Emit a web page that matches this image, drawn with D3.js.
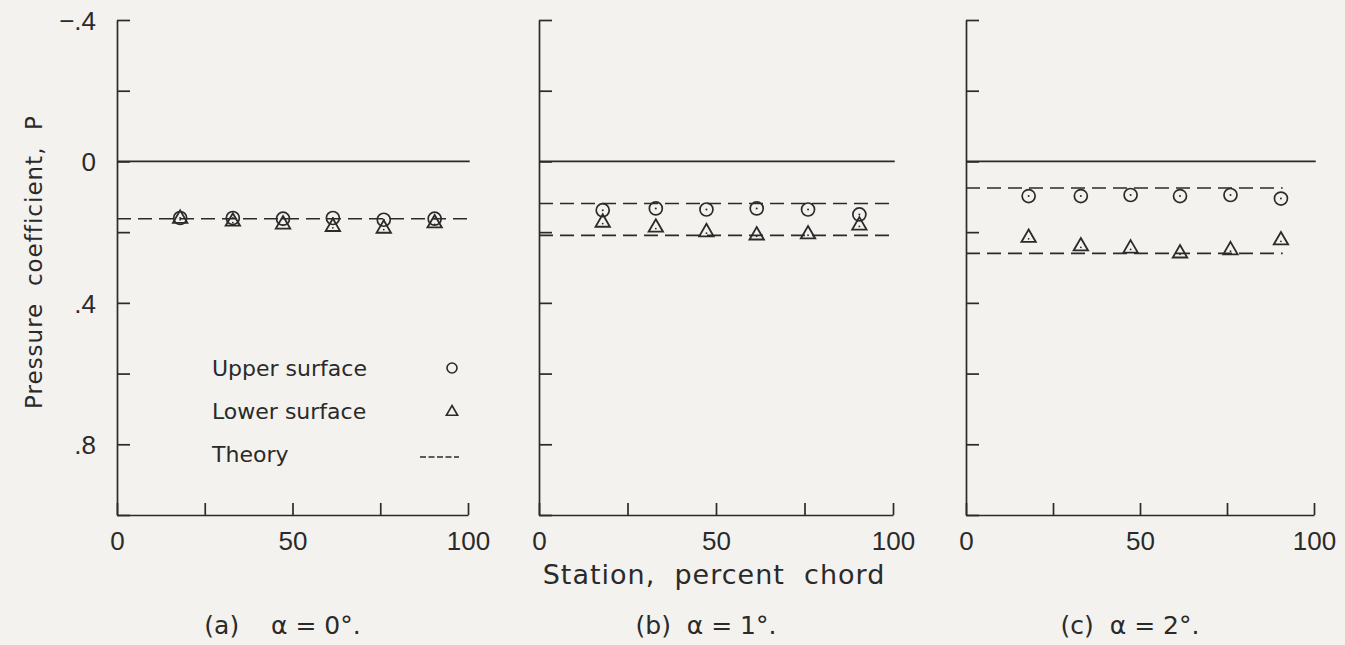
<!DOCTYPE html>
<html>
<head>
<meta charset="utf-8">
<script src="https://cdn.jsdelivr.net/npm/d3@7"></script>
<style>
  body { margin: 0; background: #f4f2ee; }
  svg { display: block; font-family: "DejaVu Sans", sans-serif; }
  text { fill: #2a2a2a; white-space: pre; }
</style>
</head>
<body>
<div id="chart"></div>
<script>
// Stations (percent chord) where the orifices sit
const stations = [18, 33, 47.3, 61.5, 76, 90.5];

// Measured pressure coefficients, one row per panel (a, b, c)
const upperP = [
    [0.160, 0.160, 0.162, 0.160, 0.165, 0.162],
    [0.138, 0.133, 0.136, 0.133, 0.136, 0.150],
    [0.098, 0.098, 0.095, 0.098, 0.095, 0.105]
];
const lowerP = [
    [0.162, 0.170, 0.178, 0.185, 0.190, 0.175],
    [0.173, 0.187, 0.200, 0.209, 0.206, 0.181],
    [0.216, 0.240, 0.246, 0.260, 0.251, 0.223]
];

// Theory values (upper, lower) and where the dashed line stops
const theoryUpper = [0.162, 0.119, 0.075];
const theoryLower = [0.162, 0.209, 0.260];
const theoryEnd = [100, 100, 91];

const captions = ["(a)    α = 0°.", "(b)  α = 1°.", "(c)  α = 2°."];
const yTicks = [-0.4, -0.2, 0, 0.2, 0.4, 0.6, 0.8, 1.0];
const yLabels = { "-0.4": "−.4", "0": "0", "0.4": ".4", "0.8": ".8" };
const xTicks = [0, 25, 50, 75, 100];
const legendItems = ["Upper surface", "Lower surface", "Theory"];

const width = 1345, height = 645;
const ink = "#2b2b2b";
const panelX = [[117, 468], [539, 893], [966, 1314]];
const y = d3.scaleLinear().domain([-0.4, 1.0]).range([20, 515]);

const svg = d3.select("#chart").append("svg")
    .attr("width", width)
    .attr("height", height);

const triangle = d3.symbol().type(d3.symbolTriangle).size(90);
const triangleSmall = d3.symbol().type(d3.symbolTriangle).size(55);

panelX.forEach((range, i) => {
    const x = d3.scaleLinear().domain([0, 100]).range(range);
    const g = svg.append("g");

    // y axis, ticks pointing inward
    const yAxis = d3.axisLeft(y)
        .tickValues(yTicks)
        .tickSize(-13)
        .tickSizeOuter(0)
        .tickPadding(21)
        .tickFormat(d => i === 0 ? (yLabels[String(+d.toFixed(1))] || "") : "");
    g.append("g")
        .attr("transform", `translate(${range[0]},0)`)
        .call(yAxis)
        .call(a => a.selectAll("text").attr("font-size", 26).attr("fill", ink).attr("dy", "0.36em"))
        .call(a => a.selectAll("line, path").attr("stroke", ink).attr("stroke-width", 1.7));

    // x axis, ticks pointing up
    const xAxis = d3.axisBottom(x)
        .tickValues(xTicks)
        .tickSize(-12)
        .tickSizeOuter(0)
        .tickPadding(17)
        .tickFormat(d => d % 50 === 0 ? d : "");
    g.append("g")
        .attr("transform", `translate(0,${y(1.0)})`)
        .call(xAxis)
        .call(a => a.selectAll("text").attr("font-size", 26).attr("fill", ink))
        .call(a => a.selectAll("line, path").attr("stroke", ink).attr("stroke-width", 1.7));

    // zero line
    g.append("line")
        .attr("x1", x(0)).attr("x2", x(100.5))
        .attr("y1", y(0)).attr("y2", y(0))
        .attr("stroke", ink).attr("stroke-width", 1.7);

    // theory lines
    const theory = theoryUpper[i] === theoryLower[i] ? [theoryUpper[i]] : [theoryUpper[i], theoryLower[i]];
    g.selectAll(".theory").data(theory).join("line")
        .attr("x1", x(0)).attr("x2", x(theoryEnd[i]))
        .attr("y1", d => y(d)).attr("y2", d => y(d))
        .attr("stroke", ink).attr("stroke-width", 1.6)
        .attr("stroke-dasharray", "14,7");

    // upper surface circles
    const up = g.selectAll(".up").data(stations.map((s, j) => [s, upperP[i][j]])).join("g")
        .attr("transform", d => `translate(${x(d[0])},${y(d[1])})`);
    up.append("circle").attr("r", 6.5)
        .attr("fill", "none").attr("stroke", ink).attr("stroke-width", 1.7);
    up.append("circle").attr("r", 1).attr("fill", ink);

    // lower surface triangles
    const lo = g.selectAll(".lo").data(stations.map((s, j) => [s, lowerP[i][j]])).join("g")
        .attr("transform", d => `translate(${x(d[0])},${y(d[1])})`);
    lo.append("path").attr("d", triangle)
        .attr("fill", "none").attr("stroke", ink).attr("stroke-width", 1.8);
    lo.append("circle").attr("r", 0.9).attr("cy", 1).attr("fill", ink);

    // caption
    svg.append("text")
        .attr("x", (range[0] + range[1]) / 2 - 10)
        .attr("y", 634)
        .attr("text-anchor", "middle")
        .attr("font-size", 25)
        .text(captions[i]);
});

// y title
svg.append("text")
    .attr("transform", "translate(42,262) rotate(-90)")
    .attr("text-anchor", "middle")
    .attr("font-size", 23)
    .attr("letter-spacing", 1)
    .text("Pressure  coefficient,  P");

// x title
svg.append("text")
    .attr("x", 714).attr("y", 584)
    .attr("text-anchor", "middle")
    .attr("font-size", 27)
    .attr("letter-spacing", 1)
    .text("Station,  percent  chord");

// legend
const legend = svg.append("g").attr("transform", "translate(212,0)");
legend.selectAll("text").data(legendItems).join("text")
    .attr("x", 0)
    .attr("y", (d, j) => 376 + j * 43)
    .attr("font-size", 22)
    .text(d => d);
legend.append("circle")
    .attr("cx", 240).attr("cy", 368).attr("r", 5)
    .attr("fill", "none").attr("stroke", ink).attr("stroke-width", 1.6);
legend.append("path")
    .attr("transform", "translate(240,412)")
    .attr("d", triangleSmall)
    .attr("fill", "none").attr("stroke", ink).attr("stroke-width", 1.6);
legend.append("line")
    .attr("x1", 208).attr("x2", 247)
    .attr("y1", 457).attr("y2", 457)
    .attr("stroke", ink).attr("stroke-width", 1.6)
    .attr("stroke-dasharray", "6,2.5");
</script>
</body>
</html>
